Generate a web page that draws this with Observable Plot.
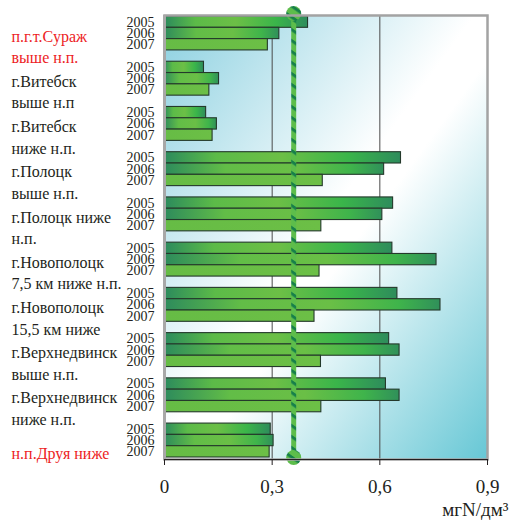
<!DOCTYPE html>
<html><head><meta charset="utf-8">
<script src="https://cdn.jsdelivr.net/npm/d3@7"></script>
<script src="https://cdn.jsdelivr.net/npm/@observablehq/plot@0.6"></script>
<style>
body{margin:0;background:#fff}
</style>
</head><body><div id="chart"></div>
<script>
const stations = [
  "п.г.т.Сураж\nвыше н.п.",
  "г.Витебск\nвыше н.п",
  "г.Витебск\nниже н.п.",
  "г.Полоцк\nвыше н.п.",
  "г.Полоцк ниже\nн.п.",
  "г.Новополоцк\n7,5 км ниже н.п.",
  "г.Новополоцк\n15,5 км ниже",
  "г.Верхнедвинск\nвыше н.п.",
  "г.Верхнедвинск\nниже н.п.",
  "н.п.Друя ниже"
];
const highlighted = [0, 9];
const years = [2005, 2006, 2007];
const values2005 = [0.400, 0.110, 0.116, 0.659, 0.637, 0.635, 0.649, 0.626, 0.617, 0.296];
const values2006 = [0.320, 0.152, 0.146, 0.612, 0.607, 0.758, 0.769, 0.655, 0.655, 0.304];
const values2007 = [0.288, 0.125, 0.134, 0.441, 0.437, 0.432, 0.418, 0.436, 0.437, 0.293];
const norm = 0.36;
const xTicks = [0, 0.3, 0.6, 0.9];
const gridValues = [0.3, 0.6];
const unitLabel = "мгN/дм³";

const seriesByYear = {2005: values2005, 2006: values2006, 2007: values2007};
const rows = [];
stations.forEach((s, i) => years.forEach(y => rows.push({station: s, i, year: y, value: seriesByYear[y][i], key: `${i}-${y}`})));
const yDomain = [];
stations.forEach((s, i) => { years.forEach(y => yDomain.push(`${i}-${y}`)); if (i < stations.length - 1) yDomain.push(`${i}-gap`); });
const yTicks = yDomain.filter(k => !k.endsWith("gap"));

const serif = "Liberation Serif";
const dark = "#231f20";
const red = "#ed1c24";

const barMark = (y) => Plot.barX(rows.filter(d => d.year === y), {
  x: "value", y: "key", fill: `url(#g${y})`, stroke: "#24392b", strokeWidth: 1.1
});

const chart = Plot.plot({
  width: 511,
  height: 523,
  marginTop: 15,
  marginBottom: 64,
  marginLeft: 164,
  marginRight: 24,
  style: {fontFamily: serif, color: dark, background: "#fff"},
  x: {domain: [0, 0.9]},
  y: {domain: yDomain, type: "band", padding: 0, round: false, insetBottom: 2, insetTop: 1},
  marks: [
    Plot.frame({fill: "url(#bg)"}),
    Plot.ruleX(gridValues, {stroke: "#4a4a4a", strokeWidth: 1}),
    barMark(2005), barMark(2006), barMark(2007),
    Plot.ruleX([norm], {stroke: "url(#rope)", strokeWidth: 5}),
    Plot.dot([norm], {x: d => d, frameAnchor: "top", dy: -2, r: 7.5, fill: "url(#rope)"}),
    Plot.dot([norm], {x: d => d, frameAnchor: "bottom", dy: -2, r: 7.5, fill: "url(#rope)"}),
    Plot.frame({stroke: "#a3a3a3", strokeWidth: 2.5}),
    Plot.ruleX([0], {stroke: "#a8a8a8", strokeWidth: 3}),
    Plot.frame({anchor: "bottom", stroke: dark, strokeWidth: 1.2}),
    Plot.axisX({ticks: xTicks, tickSize: 6, tickPadding: 14, fontSize: 19, fontFamily: serif, label: null,
      tickFormat: d => String(d).replace(".", ","), stroke: dark}),
    Plot.axisY({ticks: yTicks, tickSize: 0, tickPadding: 10, fontSize: 14, fontFamily: serif, label: null,
      tickFormat: k => k.split("-")[1]}),
    Plot.text(stations, {
      y: (d, i) => `${i}-2006`, frameAnchor: "left", dx: -153, dy: 12,
      textAnchor: "start", lineAnchor: "middle", lineHeight: 1.35, fontSize: 16, fontFamily: serif,
      fill: (d, i) => highlighted.includes(i) ? red : dark
    }),
    Plot.text([unitLabel], {frameAnchor: "bottom-right", dx: 21, dy: 56, textAnchor: "end", fontSize: 19, fontFamily: serif, fill: dark})
  ]
});

d3.select(chart).insert("defs", ":first-child").html(`
  <linearGradient id="bg" x1="0" y1="0" x2="1" y2="1">
    <stop offset="0" stop-color="#8bd0e0"/>
    <stop offset="0.48" stop-color="#ffffff"/>
    <stop offset="0.55" stop-color="#ffffff"/>
    <stop offset="1" stop-color="#66c7d5"/>
  </linearGradient>
  <linearGradient id="g2005" x1="0" y1="0" x2="1" y2="0">
    <stop offset="0" stop-color="#2b8a5d"/>
    <stop offset="0.22" stop-color="#5cbb48"/>
    <stop offset="0.5" stop-color="#6cbf46"/>
    <stop offset="0.78" stop-color="#3ab54a"/>
    <stop offset="1" stop-color="#2e8c5c"/>
  </linearGradient>
  <linearGradient id="g2006" x1="0" y1="0" x2="1" y2="0">
    <stop offset="0" stop-color="#2d8b5c"/>
    <stop offset="0.28" stop-color="#62bd47"/>
    <stop offset="0.6" stop-color="#6abf46"/>
    <stop offset="0.85" stop-color="#3fb44b"/>
    <stop offset="1" stop-color="#30905a"/>
  </linearGradient>
  <linearGradient id="g2007" x1="0" y1="0" x2="1" y2="0">
    <stop offset="0" stop-color="#66bc45"/>
    <stop offset="1" stop-color="#6cbf46"/>
  </linearGradient>
  <pattern id="rope" patternUnits="userSpaceOnUse" width="20" height="11" patternTransform="skewY(35)">
    <rect width="20" height="11" fill="#5dbd4b"/>
    <rect y="0" width="20" height="3.5" fill="#17804a"/>
  </pattern>
`);

document.getElementById("chart").append(chart);
</script>
</body></html>
